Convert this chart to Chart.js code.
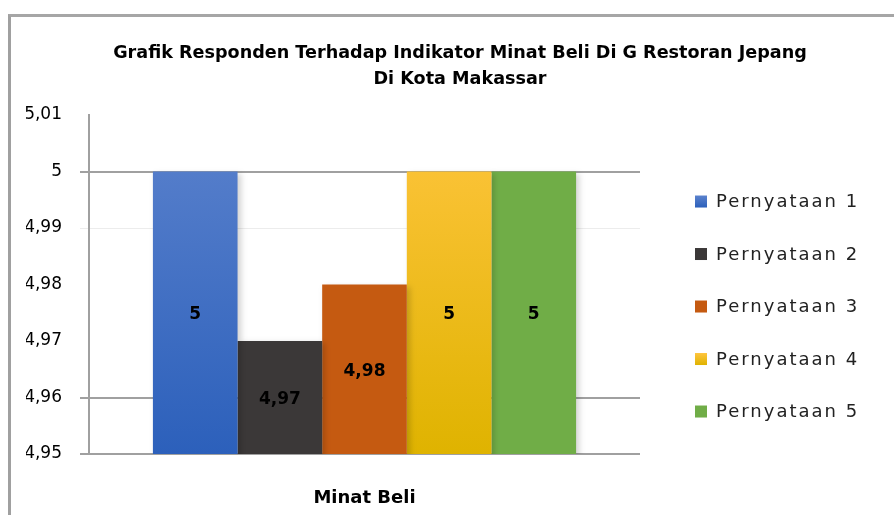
<!DOCTYPE html>
<html>
<head>
<meta charset="utf-8">
<script src="https://cdn.jsdelivr.net/npm/chart.js@4"></script>
<style>
  html, body { margin: 0; padding: 0; background: #fff; }
  .wrap { position: relative; width: 894px; height: 515px; overflow: hidden; }
  .frame { position: absolute; left: 8px; top: 14px; width: 1000px; height: 1000px;
           border-left: 3px solid #a0a0a0; border-top: 3px solid #a6a6a6; pointer-events: none; }
</style>
</head>
<body>
<div class="wrap">
  <canvas id="chart" width="894" height="515"></canvas>
  <div class="frame"></div>
</div>
<script>
const categories = ['Minat Beli'];
const seriesNames = ['Pernyataan 1', 'Pernyataan 2', 'Pernyataan 3', 'Pernyataan 4', 'Pernyataan 5'];
const p1 = [5];
const p2 = [4.97];
const p3 = [4.98];
const p4 = [5];
const p5 = [5];
const yMin = 4.95, yMax = 5.01, yStep = 0.01;
const titleLines = ['Grafik Responden Terhadap Indikator Minat Beli Di G Restoran Jepang', 'Di Kota Makassar'];

// [top, bottom] per series, flat ones just repeat
const fills = [['#5b82cd', '#2c60bb'], ['#3b3838', '#3b3838'], ['#c55a11', '#c55a11'], ['#ffc53f', '#dfb300'], ['#70ad47', '#70ad47']];

const fmt = v => String(Number(Number(v).toFixed(2))).replace('.', ',');

function grad(i) {
  return (ctx) => {
    const area = ctx.chart.chartArea;
    if (!area) return fills[i][1];
    const g = ctx.chart.ctx.createLinearGradient(0, area.top, 0, area.bottom);
    g.addColorStop(0, fills[i][0]);
    g.addColorStop(1, fills[i][1]);
    return g;
  };
}

const values = [p1, p2, p3, p4, p5];
const datasets = values.map((d, i) => ({
  label: seriesNames[i],
  data: d,
  backgroundColor: grad(i),
  borderWidth: 0,
  categoryPercentage: 0.768,
  barPercentage: 1.0
}));

// soft drop shadow on bars
const barShadow = {
  id: 'barShadow',
  beforeDatasetsDraw(chart) {
    const c = chart.ctx;
    c.save();
    c.shadowColor = 'rgba(0,0,0,0.18)';
    c.shadowBlur = 6;
    c.shadowOffsetX = 3;
    c.shadowOffsetY = 2;
  },
  afterDatasetsDraw(chart) {
    chart.ctx.restore();
  }
};

// value in the middle of every bar + legend on the right
const extras = {
  id: 'extras',
  afterDraw(chart) {
    const c = chart.ctx;
    const area = chart.chartArea;
    const ys = chart.scales.y;
    c.save();
    c.shadowColor = 'transparent';
    c.letterSpacing = '0px';
    c.font = 'bold 17px "DejaVu Sans"';
    c.fillStyle = '#000000';
    c.textAlign = 'center';
    c.textBaseline = 'middle';
    chart.data.datasets.forEach((ds, i) => {
      const meta = chart.getDatasetMeta(i);
      ds.data.forEach((v, j) => {
        const bar = meta.data[j];
        const x = bar ? bar.x : NaN;
        const top = ys.getPixelForValue(v);
        const base = ys.getPixelForValue(ys.min);
        c.fillText(fmt(v), x, (top + base) / 2 + 2);
      });
    });
    c.restore();

    const gap = 52.5;
    const n = chart.data.datasets.length;
    const midY = (area.top + area.bottom) / 2 + 22;
    const x0 = area.right + 55;
    c.save();
    c.font = '18px "DejaVu Sans"';
    c.letterSpacing = '2px';
    c.textBaseline = 'middle';
    chart.data.datasets.forEach((ds, i) => {
      const y = midY + (i - (n - 1) / 2) * gap;
      const g = c.createLinearGradient(0, y - 6, 0, y + 6);
      g.addColorStop(0, fills[i][0]);
      g.addColorStop(1, fills[i][1]);
      c.fillStyle = g;
      c.fillRect(x0, y - 6, 12, 12);
      c.fillStyle = '#222';
      c.fillText(ds.label, x0 + 21, y + 1);
    });
    c.restore();
  }
};

function gridColor(ctx) {
  if (!ctx.tick) return 'rgba(0,0,0,0)';
  const v = Math.round(ctx.tick.value * 100);
  if (v === 499) return '#ececec';
  if (v === 500 || v === 496 || v === 495) return '#a0a0a0';
  return 'rgba(0,0,0,0)';
}

new Chart(document.getElementById('chart').getContext('2d'), {
  type: 'bar',
  data: { labels: categories, datasets: datasets },
  options: {
    responsive: false,
    animation: false,
    layout: { padding: { left: 26, right: 0, top: 0, bottom: 0 } },
    scales: {
      x: {
        grid: { display: false, drawTicks: false },
        border: { display: false },
        ticks: { color: '#000', font: { family: 'DejaVu Sans', size: 18, weight: 'bold' }, padding: 34 },
        afterFit(scale) { scale.height = 61; }
      },
      y: {
        min: yMin,
        max: yMax,
        ticks: {
          stepSize: yStep,
          color: '#000',
          padding: 18,
          font: { family: 'DejaVu Sans', size: 17 },
          callback: (v) => fmt(v)
        },
        grid: { color: gridColor, lineWidth: (ctx) => (ctx.tick && Math.round(ctx.tick.value * 100) === 499 ? 1 : 2), tickLength: 9 },
        border: { color: '#a0a0a0', width: 2 },
        afterFit(scale) { scale.width = 63; }
      },
      side: {
        position: 'right',
        display: true,
        grid: { display: false },
        border: { display: false },
        ticks: { display: false },
        afterFit(scale) { scale.width = 254; }
      }
    },
    plugins: {
      legend: { display: false },
      tooltip: { enabled: false },
      title: {
        display: true,
        text: titleLines,
        color: '#000',
        font: { family: 'DejaVu Sans', size: 17.6, weight: 'bold', lineHeight: 1.45 },
        padding: { top: 41, bottom: 23 }
      }
    }
  },
  plugins: [barShadow, extras]
});
</script>
</body>
</html>
